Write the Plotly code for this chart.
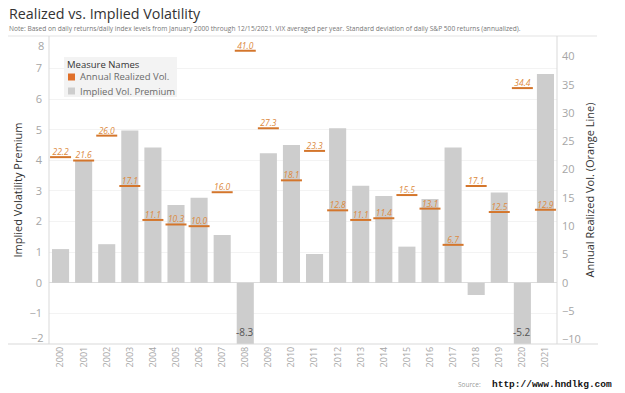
import plotly.graph_objects as go

years = [str(y) for y in range(2000, 2022)]
implied_premium = [1.1, 4.0, 1.26, 4.97, 4.42, 2.54, 2.78, 1.56, -8.3, 4.23, 4.5, 0.94,
                   5.05, 3.17, 2.83, 1.18, 2.74, 4.42, -0.4, 2.95, -5.2, 6.82]
realized_vol = [22.2, 21.6, 26.0, 17.1, 11.1, 10.3, 10.0, 16.0, 41.0, 27.3, 18.1, 23.3,
                12.8, 11.1, 11.4, 15.5, 13.1, 6.7, 17.1, 12.5, 34.4, 12.9]
left_ticks = list(range(-2, 9))
right_ticks = list(range(-10, 45, 5))
legend_labels = ["Annual Realized Vol.", "Implied Vol. Premium"]

LEFT_RANGE = [-2.0, 8.06]
RIGHT_RANGE = [v * 5.41 for v in LEFT_RANGE]

ORANGE = "#d4762c"
ORANGE_TXT = "#dc8a40"
GRAY_BAR = "#cdcdcd"
TICK = "#a6a6a6"
FONT = "Open Sans"

W, H = 625, 393
PLOT_L, PLOT_R, PLOT_T, PLOT_B = 49, 557, 36, 344  # pixels
L, T, R, B = PLOT_L, PLOT_T, W - PLOT_R, H - PLOT_B
pw, ph = PLOT_R - PLOT_L, PLOT_B - PLOT_T


def px_x(p):
    return (p - PLOT_L) / pw


def px_y(p):
    return (PLOT_B - p) / ph


fig = go.Figure()
fig.add_trace(go.Bar(
    x=years, y=implied_premium, marker=dict(color=GRAY_BAR, line=dict(width=0)),
    showlegend=False, yaxis="y", hoverinfo="x+y",
))
fig.add_trace(go.Scatter(
    x=years, y=realized_vol, yaxis="y2", mode="markers",
    marker=dict(symbol="line-ew", size=15, line=dict(color=ORANGE, width=2), color=ORANGE),
    showlegend=False,
))
fig.add_trace(go.Scatter(
    x=years, y=realized_vol, yaxis="y2", mode="text",
    text=[f"{v:.1f}" for v in realized_vol], textposition="top center",
    textfont=dict(color=ORANGE_TXT, size=8.5, family=FONT, style="italic"),
    showlegend=False, hoverinfo="skip",
))

annotations = []
for i, v in enumerate(implied_premium):
    if v < LEFT_RANGE[0]:
        annotations.append(dict(x=i, y=LEFT_RANGE[0] + 0.4, yref="y", xref="x", text=f"{v:.1f}",
                                showarrow=False, yanchor="middle",
                                font=dict(size=10, color="#555", family=FONT)))


def txt(x, y, s, size, color, family=FONT, anchor="left"):
    return dict(x=px_x(x), y=px_y(y), xref="paper", yref="paper", xanchor=anchor, yanchor="middle",
                text=s, showarrow=False, font=dict(size=size, color=color, family=family))


# end tick labels of the left axis are nudged inside the plot, as in the reference
edge_ticks = [left_ticks[0], left_ticks[-1]]
inner_ticks = left_ticks[1:-1]

annotations += [
    txt(7, 13.5, "Realized vs. Implied Volatility", 14.3, "#333333"),
    txt(7, 28.5, "Note: Based on daily returns/daily index levels from January 2000 through 12/15/2021. "
                 "VIX averaged per year. Standard deviation of daily S&P 500 returns (annualized).",
        6.6, "#777777"),
    txt(456, 384, "Source:", 6.5, "#999999"),
    txt(490, 384, "<b>http://www.hndlkg.com</b>", 9.5, "#111111", family="Liberation Mono"),
    txt(46, 45, str(edge_ticks[1]), 11, TICK, anchor="right"),
    txt(46, 337, "\u2212" + str(abs(edge_ticks[0])), 11, TICK, anchor="right"),
    # manual legend
    txt(65, 65, "Measure Names", 9.5, "#333333"),
    txt(78, 77, legend_labels[0], 9.5, "#6a6a6a"),
    txt(78, 91, legend_labels[1], 9.5, "#6a6a6a"),
]

shapes = [
    dict(type="line", xref="paper", yref="paper", x0=px_x(8), x1=px_x(597), y0=px_y(36), y1=px_y(36),
         line=dict(color="#e3e3e3", width=1)),
    dict(type="line", xref="paper", yref="paper", x0=px_x(8), x1=px_x(598), y0=px_y(344), y1=px_y(344),
         line=dict(color="#d9d9d9", width=1)),
    dict(type="line", xref="paper", yref="paper", x0=0, x1=0, y0=0, y1=1,
         line=dict(color="#d9d9d9", width=1)),
    dict(type="line", xref="paper", yref="paper", x0=1, x1=1, y0=0, y1=1,
         line=dict(color="#d9d9d9", width=1)),
    # legend box + swatches
    dict(type="rect", xref="paper", yref="paper", x0=px_x(64), x1=px_x(177), y0=px_y(57), y1=px_y(97),
         fillcolor="#f3f3f3", line=dict(width=0), layer="above"),
    dict(type="rect", xref="paper", yref="paper", x0=px_x(68), x1=px_x(75), y0=px_y(73.5), y1=px_y(80.5),
         fillcolor="#e0702a", line=dict(width=0), layer="above"),
    dict(type="rect", xref="paper", yref="paper", x0=px_x(68), x1=px_x(75), y0=px_y(87.5), y1=px_y(94.5),
         fillcolor=GRAY_BAR, line=dict(width=0), layer="above"),
]

fig.update_layout(
    width=W, height=H, margin=dict(l=L, r=R, t=T, b=B, autoexpand=False),
    paper_bgcolor="white", plot_bgcolor="white",
    font=dict(family=FONT, color="#333"),
    bargap=0.26, showlegend=False,
    xaxis=dict(type="category", categoryorder="array", categoryarray=years, range=[-0.5, 21.5],
               tickangle=-90, tickfont=dict(size=9, color=TICK), showgrid=False, showline=False,
               ticks="", zeroline=False, automargin=False),
    yaxis=dict(range=LEFT_RANGE, tickvals=inner_ticks, tickfont=dict(size=11, color=TICK),
               showgrid=True, gridcolor="#f3f3f3", gridwidth=1, zeroline=True, zerolinecolor="#dcdcdc",
               zerolinewidth=1, showline=False, ticks="", ticklabelstandoff=6, automargin=False,
               title=dict(text="Implied Volatility Premium", font=dict(size=11, color="#333"), standoff=4)),
    yaxis2=dict(range=RIGHT_RANGE, tickvals=right_ticks, overlaying="y", side="right",
                tickfont=dict(size=11, color=TICK), showgrid=False, zeroline=False, showline=False,
                ticks="", ticklabelstandoff=4, automargin=False,
                title=dict(text="Annual Realized Vol. (Orange Line)", font=dict(size=11, color="#333"),
                           standoff=6)),
    annotations=annotations, shapes=shapes,
)

fig.write_html("out.html", config={"displayModeBar": False},
               post_script="document.body.style.margin='0px';document.body.style.overflow='hidden';")
